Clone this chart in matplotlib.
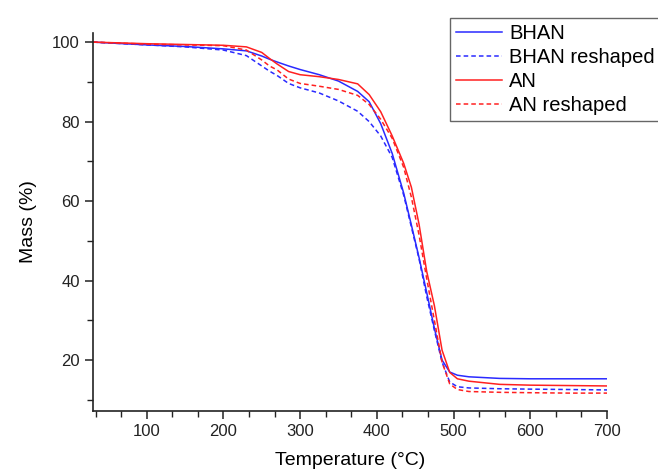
import matplotlib
matplotlib.use("Agg")
import matplotlib.pyplot as plt
from matplotlib.ticker import MultipleLocator

plt.rcParams["font.family"] = ["Liberation Sans", "DejaVu Sans"]

temp = [30, 100, 150, 200, 230, 250, 260, 270, 285, 300, 325, 350, 375, 390,
        405, 420, 435, 445, 455, 465, 475, 485, 495, 505, 520, 560, 600, 650, 700]

bhan = [100, 99.3, 98.9, 98.3, 97.8, 96.5, 95.7, 95.0, 94.0, 93.1, 91.8, 90.2,
        87.6, 85.0, 79.5, 72.0, 62.0, 54.0, 45.8, 37.0, 28.0, 20.0, 17.0, 16.2,
        15.8, 15.4, 15.3, 15.3, 15.3]
bhan_reshaped = [100, 99.3, 98.8, 98.0, 96.6, 94.0, 92.7, 91.6, 89.6, 88.5, 87.2,
                 85.2, 82.6, 80.0, 76.4, 71.0, 61.5, 53.5, 45.5, 36.0, 27.5, 19.5,
                 14.5, 13.3, 13.0, 12.8, 12.7, 12.6, 12.5]
an = [100, 99.6, 99.4, 99.2, 98.8, 97.4, 95.9, 94.5, 92.6, 91.8, 91.3, 90.6,
      89.5, 86.8, 82.5, 76.4, 69.5, 63.5, 54.2, 42.3, 33.7, 22.5, 16.9, 15.3,
      14.7, 13.9, 13.7, 13.6, 13.5]
an_reshaped = [100, 99.5, 99.3, 99.1, 98.0, 95.5, 94.0, 93.0, 90.7, 89.6, 88.9,
               88.1, 86.6, 84.3, 80.6, 75.8, 68.5, 61.0, 51.5, 40.5, 30.0, 19.5,
               14.0, 12.6, 12.1, 11.9, 11.8, 11.7, 11.7]

fig = plt.figure(figsize=(6.58, 4.71), dpi=100)
ax = fig.add_axes([0.1413, 0.1274, 0.7812, 0.8026])

blue = "#2a2aff"
red = "#ff2020"
ax.plot(temp, bhan, color=blue, lw=1.1, label="BHAN")
ax.plot(temp, bhan_reshaped, color=blue, lw=1.1, ls=(0, (3, 2)), label="BHAN reshaped")
ax.plot(temp, an, color=red, lw=1.1, label="AN")
ax.plot(temp, an_reshaped, color=red, lw=1.1, ls=(0, (3, 2)), label="AN reshaped")

ax.set_xlim(30, 700)
ax.set_ylim(7.2, 102.3)
ax.xaxis.set_major_locator(MultipleLocator(100))
ax.xaxis.set_minor_locator(MultipleLocator(100 / 3))
ax.yaxis.set_major_locator(MultipleLocator(20))
ax.yaxis.set_minor_locator(MultipleLocator(10))

for s in ["top", "right"]:
    ax.spines[s].set_visible(False)
for s in ["left", "bottom"]:
    ax.spines[s].set_linewidth(1.2)
    ax.spines[s].set_color("#222222")

ax.tick_params(which="major", direction="out", length=6, width=1.1,
               labelsize=12, colors="#222222")
ax.tick_params(which="minor", direction="out", length=4, width=1.0, colors="#222222")

ax.set_xlabel("Temperature (°C)", fontsize=14, labelpad=9)
ax.set_ylabel("Mass (%)", fontsize=14, labelpad=11)

leg = fig.legend(loc="upper left", bbox_to_anchor=(450 / 658, 1 - 18 / 471),
                 fontsize=14.5, handlelength=2.3, labelspacing=0.25, borderpad=0.3,
                 handletextpad=0.35, borderaxespad=0, fancybox=False, framealpha=1)
leg.get_frame().set_edgecolor("#666666")
leg.get_frame().set_linewidth(1.0)

fig.savefig("out.png", dpi=100)
